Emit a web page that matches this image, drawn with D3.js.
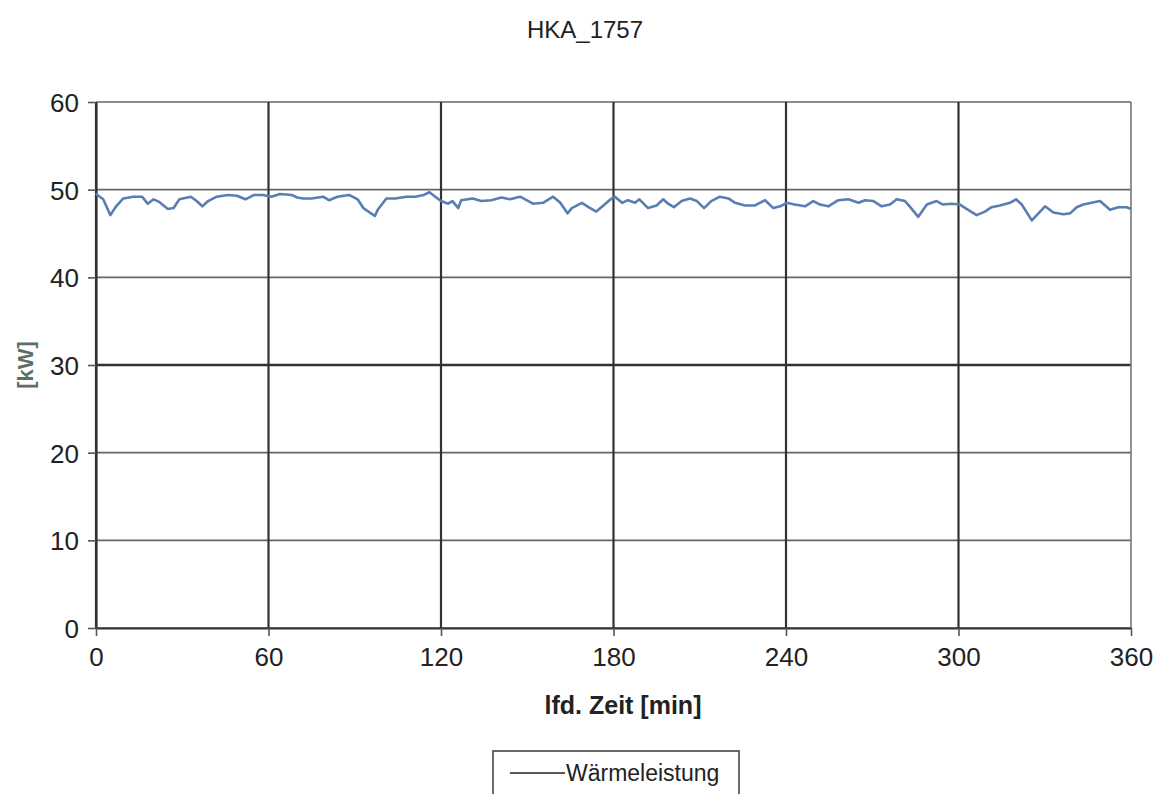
<!DOCTYPE html>
<html>
<head>
<meta charset="utf-8">
<script src="https://cdn.jsdelivr.net/npm/d3@7"></script>
<style>
  body { margin: 0; background: #fff; }
  svg { display: block; font-family: "Liberation Sans", Arial, sans-serif; }
</style>
</head>
<body>
<div id="chart"></div>
<script>
// Wärmeleistung over time
let minutes = [0, 0.5, 2.5, 5, 7, 9.5, 13, 16, 18, 20, 22, 25, 27, 29, 33, 35, 37, 39, 42, 46, 49, 52, 55, 58,
  61, 64, 68, 70, 72, 75, 79, 81, 84, 88, 91, 93, 97, 98, 101, 104, 108, 111, 114, 116, 118,
  120, 122.5, 124, 126, 127, 131, 134, 137.5, 141, 144, 147.5, 152, 155.5, 159, 161.5, 164, 165.5, 169, 171.3, 174, 176.5, 179,
  180.5, 183, 185, 187.5, 189, 192, 195, 197.3, 199, 201, 203.7, 206.6, 209, 211.5, 214, 217, 220, 222.3, 225.7, 229.2, 232.7, 235.6, 238,
  240.2, 243, 246.6, 249.5, 251.8, 254.7, 258.2, 261.7, 265.2, 267.5, 270.4, 273.3, 276.2, 278.5, 281.4, 283, 286, 289, 292.4, 294.6, 297.6,
  300.5, 302.8, 306.3, 309.2, 311.5, 314.4, 317.9, 320, 322, 325.5, 327.8, 330.1, 333, 336.5, 338.8, 341.1, 343.4, 346.3, 349.2, 352.7, 355.6, 358.5, 360];
let waermeleistung = [49.6, 49.4, 48.9, 47.1, 48.1, 49.0, 49.2, 49.2, 48.4, 48.9, 48.6, 47.8, 47.9, 48.9, 49.2, 48.7, 48.1, 48.7, 49.2, 49.4, 49.3, 48.9, 49.4, 49.4,
  49.2, 49.5, 49.4, 49.1, 49.0, 49.0, 49.2, 48.8, 49.2, 49.4, 48.9, 47.9, 47.0, 47.7, 49.0, 49.0, 49.2, 49.2, 49.4, 49.7, 49.2,
  48.7, 48.4, 48.7, 47.9, 48.8, 49.0, 48.7, 48.8, 49.1, 48.9, 49.2, 48.4, 48.5, 49.2, 48.5, 47.3, 47.9, 48.5, 48.0, 47.5, 48.2, 48.9,
  49.2, 48.5, 48.8, 48.5, 48.9, 47.9, 48.2, 48.9, 48.4, 48.0, 48.7, 49.0, 48.7, 47.9, 48.7, 49.2, 49.0, 48.5, 48.2, 48.2, 48.8, 47.9, 48.1,
  48.5, 48.3, 48.1, 48.7, 48.3, 48.1, 48.8, 48.9, 48.5, 48.8, 48.7, 48.1, 48.3, 48.9, 48.7, 48.1, 46.9, 48.3, 48.7, 48.3, 48.4,
  48.3, 47.8, 47.1, 47.5, 48.0, 48.2, 48.5, 48.9, 48.3, 46.5, 47.3, 48.1, 47.4, 47.2, 47.3, 48.0, 48.3, 48.5, 48.7, 47.7, 48.0, 48.0, 47.8];
let xTicks = [0, 60, 120, 180, 240, 300, 360];
let yTicks = [0, 10, 20, 30, 40, 50, 60];

let title = "HKA_1757";
let xTitle = "lfd. Zeit [min]";
let yTitle = "[kW]";
let seriesName = "Wärmeleistung";

let width = 1170, height = 794;
let margin = { top: 102, right: 39, bottom: 166, left: 96 };

let svg = d3.select("#chart").append("svg")
  .attr("width", width)
  .attr("height", height);

let x = d3.scaleLinear().domain([0, 360]).range([margin.left, width - margin.right]);
let y = d3.scaleLinear().domain([0, 60]).range([height - margin.bottom, margin.top]);

// gridlines
svg.append("g").selectAll("line")
  .data(yTicks).enter()
  .append("line")
    .attr("x1", x(0)).attr("x2", x(360))
    .attr("y1", d => y(d)).attr("y2", d => y(d))
    .attr("stroke", d => d === 30 ? "#333" : "#666")
    .attr("stroke-width", d => d === 30 ? 2.6 : 1.7);

svg.append("g").selectAll("line")
  .data(xTicks).enter()
  .append("line")
    .attr("x1", d => x(d)).attr("x2", d => x(d))
    .attr("y1", y(0)).attr("y2", y(60))
    .attr("stroke", d => d === 360 ? "#777" : "#333")
    .attr("stroke-width", d => d === 360 ? 1.6 : 2.2);

// axes
let yAxis = svg.append("g")
  .attr("transform", "translate(" + x(0) + ",0)")
  .call(d3.axisLeft(y).tickValues(yTicks).tickSize(8).tickPadding(9).tickSizeOuter(0));

let xAxis = svg.append("g")
  .attr("transform", "translate(0," + y(0) + ")")
  .call(d3.axisBottom(x).tickValues(xTicks).tickSize(8).tickPadding(12).tickSizeOuter(0));

[xAxis, yAxis].forEach(a => {
  a.select(".domain").attr("stroke", "#333").attr("stroke-width", 2.2);
  a.selectAll(".tick line").attr("stroke", "#555").attr("stroke-width", 1.6);
  a.selectAll("text")
    .attr("fill", "#222")
    .style("font-size", "26px");
});
yAxis.selectAll("text").attr("dy", "0.36em");

// the series
let line = d3.line()
  .x((d, i) => x(minutes[i]))
  .y(d => y(d));

svg.append("path")
  .datum(waermeleistung)
  .attr("d", line)
  .attr("fill", "none")
  .attr("stroke", "#5a7db4")
  .attr("stroke-width", 2.6)
  .attr("stroke-linejoin", "round");

// titles
svg.append("text")
  .attr("x", 585).attr("y", 38)
  .attr("text-anchor", "middle")
  .attr("fill", "#222")
  .style("font-size", "24px")
  .text(title);

svg.append("text")
  .attr("x", 623).attr("y", 714)
  .attr("text-anchor", "middle")
  .attr("fill", "#222")
  .style("font-size", "25px")
  .style("font-weight", "bold")
  .text(xTitle);

svg.append("text")
  .attr("transform", "translate(33," + y(30) + ") rotate(-90)")
  .attr("text-anchor", "middle")
  .attr("fill", "#5c7068")
  .style("font-size", "22px")
  .style("font-weight", "bold")
  .text(yTitle);

// legend
let legend = svg.append("g");
legend.append("rect")
  .attr("x", 493).attr("y", 751)
  .attr("width", 246).attr("height", 60)
  .attr("fill", "#fff")
  .attr("stroke", "#444")
  .attr("stroke-width", 1.6);
legend.append("line")
  .attr("x1", 510).attr("x2", 565)
  .attr("y1", 773).attr("y2", 773)
  .attr("stroke", "#222")
  .attr("stroke-width", 1.5);
legend.append("text")
  .attr("x", 566).attr("y", 781)
  .attr("fill", "#222")
  .style("font-size", "23px")
  .text(seriesName);
</script>
</body>
</html>
